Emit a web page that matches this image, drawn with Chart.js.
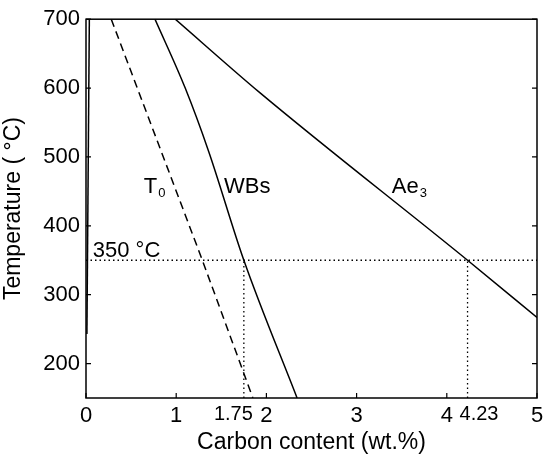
<!DOCTYPE html>
<html>
<head>
<meta charset="utf-8">
<script src="https://cdn.jsdelivr.net/npm/chart.js@4.4.1/dist/chart.umd.min.js"></script>
<style>
    body { margin: 0; background: #fff; }
    canvas { display: block; }
</style>
</head>
<body>
<canvas id="chart" width="544" height="459"></canvas>
<script>
// tick labels
const xTicks = [0, 1, 1.75, 2, 3, 4, 4.23, 5];
const yTicks = [200, 300, 400, 500, 600, 700];

// curves (carbon wt.% vs temperature)
const msX = [0.01, 0.037];
const msT = [243, 700];
const t0X = [0.28, 1.29, 1.85];
const t0T = [700, 350, 150];
const wbsX = [0.765, 1.10, 1.36, 1.75, 2.34];
const wbsT = [700, 600, 508, 350, 150];
const ae3X = [0.99, 1.93, 4.23, 5];
const ae3T = [700, 593, 350, 267];

// 350 °C isotherm and where it meets WBs / Ae3
const isoT = 350;
const isoX = [1.75, 4.23];

const FONT = 'Liberation Sans, Arial, sans-serif';

function pts(xs, ys) {
    return xs.map(function(x, i) { return { x: x, y: ys[i] }; });
}

function lineSet(data, dash, width, smooth) {
    return {
        data: data,
        borderColor: '#000',
        borderWidth: width || 1.5,
        borderDash: dash || [],
        pointRadius: 0,
        fill: false,
        tension: smooth ? 0.4 : 0,
        cubicInterpolationMode: smooth ? 'monotone' : 'default'
    };
}

const datasets = [
    lineSet(pts(msX, msT)),
    lineSet(pts(t0X, t0T), [8, 5]),
    lineSet(pts(wbsX, wbsT), null, 1.5, true),
    lineSet(pts(ae3X, ae3T), null, 1.5, true),
    lineSet([{ x: 0, y: isoT }, { x: 5, y: isoT }], [1.5, 3], 1.3)
];
isoX.forEach(function(x) {
    datasets.push(lineSet([{ x: x, y: 150 }, { x: x, y: isoT }], [1.5, 3], 1.3));
});

// frame, inward ticks, the two odd x labels and curve labels
const decorPlugin = {
    id: 'decor',
    afterDatasetsDraw: function(chart) {
        const ctx = chart.ctx;
        const a = chart.chartArea;
        const xs = chart.scales.x;
        const ys = chart.scales.y;
        ctx.save();
        ctx.strokeStyle = '#000';
        ctx.lineWidth = 1.5;
        ctx.strokeRect(a.left, a.top, a.right - a.left, a.bottom - a.top);

        ctx.lineWidth = 1.2;
        ctx.beginPath();
        xTicks.forEach(function(v) {
            if (v % 1 !== 0) return;
            const px = xs.getPixelForValue(v);
            ctx.moveTo(px, a.bottom);
            ctx.lineTo(px, a.bottom - 5);
        });
        yTicks.forEach(function(v) {
            const py = ys.getPixelForValue(v);
            ctx.moveTo(a.left, py);
            ctx.lineTo(a.left + 5, py);
            ctx.moveTo(a.right, py);
            ctx.lineTo(a.right - 5, py);
        });
        ctx.stroke();

        ctx.fillStyle = '#000';
        ctx.textBaseline = 'alphabetic';

        // 1.75 sits left of its mark, 4.23 right of it, so they don't hit 2 and 4
        ctx.font = '20px ' + FONT;
        ctx.textAlign = 'right';
        ctx.fillText('1.75', xs.getPixelForValue(isoX[0]) + 9, a.bottom + 22);
        ctx.textAlign = 'left';
        ctx.fillText('4.23', xs.getPixelForValue(isoX[1]) - 8, a.bottom + 22);

        function label(main, sub, x, y) {
            const px = xs.getPixelForValue(x);
            const py = ys.getPixelForValue(y);
            ctx.font = '22px ' + FONT;
            ctx.fillText(main, px, py);
            if (sub) {
                const w = ctx.measureText(main).width;
                ctx.font = '13px ' + FONT;
                ctx.fillText(sub, px + w + 1, py + 4);
            }
        }
        label('T', '0', 0.64, 447);
        label('WBs', '', 1.53, 447);
        label('Ae', '3', 3.39, 447);
        label('350 °C', '', 0.075, 354);
        ctx.restore();
    }
};

new Chart(document.getElementById('chart'), {
    type: 'line',
    data: { datasets: datasets },
    options: {
        responsive: false,
        animation: false,
        layout: { padding: { top: 17, right: 7, left: 0, bottom: 0 } },
        plugins: {
            legend: { display: false },
            tooltip: { enabled: false }
        },
        scales: {
            x: {
                type: 'linear',
                min: 0,
                max: 5,
                afterBuildTicks: function(scale) {
                    scale.ticks = xTicks.map(function(v) { return { value: v }; });
                },
                afterFit: function(scale) {
                    scale.height = 61;
                    scale.paddingLeft = 0;
                    scale.paddingRight = 0;
                },
                grid: { display: false, drawTicks: false },
                border: { display: false },
                ticks: {
                    autoSkip: false,
                    maxRotation: 0,
                    padding: 5,
                    color: '#000',
                    font: { family: FONT, size: 22 },
                    callback: function(v) { return v % 1 === 0 ? String(v) : ''; }
                },
                title: {
                    display: true,
                    text: 'Carbon content (wt.%)',
                    color: '#000',
                    font: { family: FONT, size: 23 },
                    padding: { top: 0, bottom: 3 }
                }
            },
            y: {
                min: 150,
                max: 700,
                afterBuildTicks: function(scale) {
                    scale.ticks = yTicks.map(function(v) { return { value: v }; });
                },
                afterFit: function(scale) { scale.width = 86; },
                grid: { display: false, drawTicks: false },
                border: { display: false },
                ticks: {
                    padding: 6,
                    color: '#000',
                    font: { family: FONT, size: 22 }
                },
                title: {
                    display: true,
                    text: 'Temperature ( °C)',
                    color: '#000',
                    font: { family: FONT, size: 23 },
                    padding: { top: 0, bottom: 4 }
                }
            }
        }
    },
    plugins: [decorPlugin]
});
</script>
</body>
</html>
